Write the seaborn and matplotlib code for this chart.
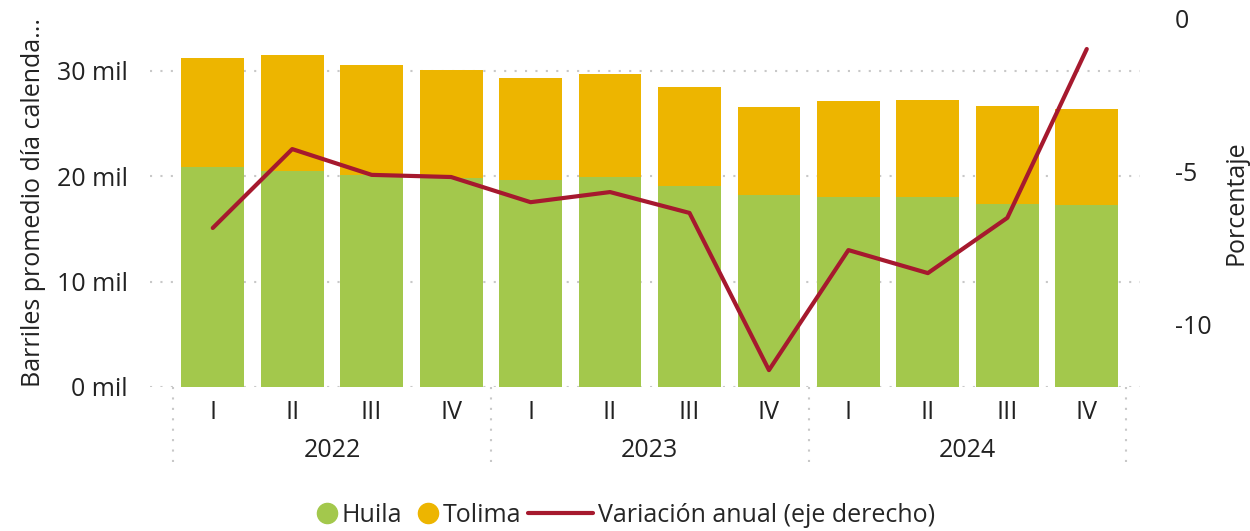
import numpy as np
import pandas as pd
import seaborn as sns
import matplotlib.pyplot as plt
import matplotlib.transforms as mtransforms
from matplotlib.lines import Line2D

sns.set_theme(style="white")
plt.rcParams['font.family'] = ['Open Sans', 'DejaVu Sans']

years = ["2022", "2023", "2024"]
quarters = ["I", "II", "III", "IV"]
huila = [20850, 20500, 20100, 19800, 19600, 19900, 19100, 18200, 18000, 18000, 17400, 17250]
tolima = [10350, 11000, 10400, 10300, 9700, 9800, 9400, 8400, 9100, 9200, 9300, 9150]
variacion = [-6.84, -4.27, -5.11, -5.18, -6.0, -5.67, -6.35, -11.47, -7.56, -8.31, -6.51, -1.01]

green = "#A3C84C"
yellow = "#EDB500"
red = "#A6192E"
txt = "#222222"
fs = 18

labels = [f"{y}-{q}" for y in years for q in quarters]
df = pd.DataFrame({"periodo": labels, "huila": huila, "tolima": tolima})
df["total"] = df["huila"] + df["tolima"]

fig = plt.figure(figsize=(12.5, 5.31), dpi=100)
ax = fig.add_axes([150 / 1250, 1 - 387 / 531, 990 / 1250, 369 / 531])

sns.barplot(data=df, x="periodo", y="total", color=yellow, width=0.79,
            saturation=1, linewidth=0, ax=ax, order=labels)
sns.barplot(data=df, x="periodo", y="huila", color=green, width=0.79,
            saturation=1, linewidth=0, ax=ax, order=labels)
ax.set_xlim(-0.79, 11.67)
ax.set_ylim(0, 35000)
ax.set_yticks([0, 10000, 20000, 30000])
ax.set_yticklabels(["0 mil", "10 mil", "20 mil", "30 mil"])
ax.yaxis.grid(True, color="#C8C8C8", linestyle=(0, (1, 4)), linewidth=1.5)
ax.set_axisbelow(True)
ax.tick_params(axis="y", length=0, pad=16, labelsize=fs, labelcolor=txt)
ax.set_xticks([])
ax.set_xlabel("")
ax.set_ylabel("Barriles promedio día calenda...", fontsize=fs, color=txt, labelpad=8)
for s in ax.spines.values():
    s.set_visible(False)

# two-level x axis labels
trans = mtransforms.blended_transform_factory(ax.transData, ax.transAxes)
for i, lab in enumerate(labels):
    ax.text(i, -0.07, lab.split("-")[1], transform=trans, ha="center", va="center",
            fontsize=fs, color=txt)
for j, y in enumerate(years):
    ax.text(j * 4 + 1.5, -0.171, y, transform=trans, ha="center", va="center",
            fontsize=fs, color=txt)
for xs in [-0.5, 3.5, 7.5, 11.5]:
    ax.plot([xs, xs], [0, -0.225], transform=trans, color="#C8C8C8",
            linestyle=(0, (1, 4)), linewidth=1.5, clip_on=False)

ax2 = ax.twinx()
sns.lineplot(x=np.arange(len(variacion)), y=variacion, color=red, linewidth=3, ax=ax2)
ax2.set_ylim(-12.02, 0)
ax2.set_yticks([0, -5, -10])
ax2.set_yticklabels(["0", "-5", "-10"])
ax2.tick_params(axis="y", length=0, pad=25, labelsize=fs, labelcolor=txt)
ax2.set_ylabel("Porcentaje", fontsize=fs, color=txt, labelpad=9)
ax2.grid(False)
for s in ax2.spines.values():
    s.set_visible(False)

# legend in two parts: dots for the bars, a long line for the series
ly = 1 - 515 / 531
h_huila = Line2D([], [], marker="o", linestyle="", markersize=14.5, color=green)
h_tolima = Line2D([], [], marker="o", linestyle="", markersize=14.5, color=yellow)
leg1 = fig.legend([h_huila, h_tolima], ["Huila", "Tolima"],
                  loc="center right", bbox_to_anchor=(521 / 1250, ly), ncol=2,
                  frameon=False, fontsize=fs, handlelength=1.1, handletextpad=0.05,
                  columnspacing=0.45, borderpad=0, borderaxespad=0)
h_var = Line2D([], [], color=red, linewidth=3)
fig.legend([h_var], ["Variación anual (eje derecho)"],
           loc="center left", bbox_to_anchor=(528 / 1250, ly),
           frameon=False, fontsize=fs, handlelength=2.6, handletextpad=0.2,
           borderpad=0, borderaxespad=0)

fig.savefig("out.png", dpi=100)
